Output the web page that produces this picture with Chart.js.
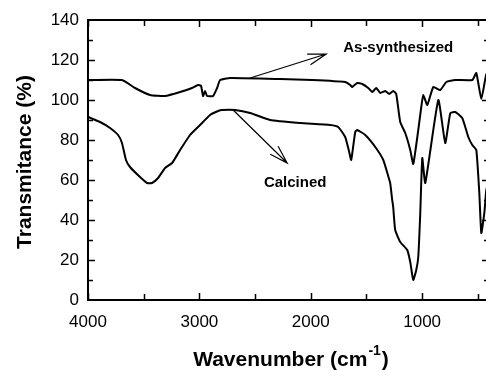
<!DOCTYPE html>
<html>
<head>
<meta charset="utf-8">
<script src="https://cdn.jsdelivr.net/npm/chart.js@4/dist/chart.umd.min.js"></script>
<style>
  html, body { margin: 0; padding: 0; background: #fff; overflow: hidden; }
  #ftir { display: block; }
</style>
</head>
<body>
<canvas id="ftir" width="490" height="370"></canvas>
<script>
// wavenumber (cm-1) and transmitance (%)
var synWave = [4000, 3695, 3578, 3443, 3308, 3173, 3066, 3012, 2985, 2967, 2949, 2931, 2877, 2841, 2814, 2724,
  2275, 1987, 1691, 1646, 1628, 1583, 1538, 1484, 1448, 1412, 1376, 1331, 1296, 1260, 1233, 1197, 1152, 1107,
  1080, 1035, 1008, 990, 954, 900, 837, 783, 703, 550, 514, 469, 424, 400];
var synT = [110, 110, 106, 102.5, 102, 104, 106, 107.5, 107, 102, 104.5, 102, 102, 106, 110, 111,
  110.5, 110, 109, 107.5, 106.5, 108.5, 108, 106, 104, 106, 103.5, 104.5, 103, 104.5, 103, 89, 83.5, 75,
  68, 85, 96.5, 102.5, 97.5, 106.5, 105, 109, 110, 110, 113.5, 100.5, 113, 112];

var calWave = [4000, 3892, 3802, 3730, 3695, 3659, 3623, 3533, 3470, 3425, 3371, 3308, 3245, 3173, 3084, 2994,
  2904, 2832, 2796, 2679, 2544, 2365, 2095, 1826, 1754, 1691, 1655, 1637, 1601, 1583, 1511, 1421, 1349, 1305,
  1287, 1269, 1260, 1242, 1197, 1134, 1107, 1080, 1053, 1035, 1017, 999, 972, 855, 793, 747, 703, 640, 586,
  550, 514, 487, 469, 442, 424, 400];
var calT = [91.5, 89, 86, 82.5, 78.5, 70, 66.5, 61.5, 58.5, 58.5, 61, 66, 68.5, 75, 82.5, 87.5,
  92.5, 94.5, 95, 95, 93.5, 90, 88.5, 87.5, 86.5, 81.5, 74, 70, 84, 85, 82.5, 76.5, 70, 62,
  58.5, 50, 46.5, 35, 29, 25, 19, 10, 15, 21.5, 43.5, 71, 58.5, 100, 78.5, 93.5, 94, 91, 81.5,
  77.5, 75, 53.5, 33.5, 43.5, 55, 60];

var xTicks = [4000, 3000, 2000, 1000];
var yTicks = [0, 20, 40, 60, 80, 100, 120, 140];

// annotations in data units: [label, labelX, labelY, fromX, fromY, toX, toY]
var notes = [
  ["As-synthesized", 1215, 126, 2544, 111, 1862, 123],
  ["Calcined", 2140, 58.5, 2697, 95, 2212, 68.5]
];

function toPoints(xs, ys) {
  var pts = [];
  for (var i = 0; i < xs.length; i++) pts.push({ x: xs[i], y: ys[i] });
  return pts;
}

var framePlugin = {
  id: "frame",
  afterDraw: function (chart) {
    var ctx = chart.ctx;
    var a = chart.chartArea;
    var xs = chart.scales.x, ys = chart.scales.y;
    ctx.save();
    ctx.strokeStyle = "#000";
    ctx.fillStyle = "#000";

    // frame
    ctx.lineWidth = 2;
    ctx.strokeRect(a.left, a.top, a.right - a.left, a.bottom - a.top);

    // inward ticks on all four sides
    ctx.lineWidth = 1.5;
    ctx.beginPath();
    for (var w = 4000; w >= 500; w -= 500) {
      var px = Math.round(xs.getPixelForValue(w)) + 0.5;
      var len = (w % 1000 === 0) ? 7 : 6;
      ctx.moveTo(px, a.bottom); ctx.lineTo(px, a.bottom - len);
      ctx.moveTo(px, a.top); ctx.lineTo(px, a.top + len);
    }
    for (var t = 10; t < 140; t += 10) {
      var py = Math.round(ys.getPixelForValue(t)) + 0.5;
      var l2 = (t % 20 === 0) ? 7 : 5;
      ctx.moveTo(a.left, py); ctx.lineTo(a.left + l2, py);
      ctx.moveTo(a.right, py); ctx.lineTo(a.right - l2, py);
    }
    ctx.stroke();

    // arrows + labels
    ctx.font = "bold 15px 'Liberation Sans', Arial, sans-serif";
    ctx.textAlign = "center";
    ctx.textBaseline = "middle";
    ctx.lineWidth = 1.2;
    notes.forEach(function (n) {
      ctx.fillText(n[0], xs.getPixelForValue(n[1]), ys.getPixelForValue(n[2]));
      var x0 = xs.getPixelForValue(n[3]), y0 = ys.getPixelForValue(n[4]);
      var x1 = xs.getPixelForValue(n[5]), y1 = ys.getPixelForValue(n[6]);
      var ang = Math.atan2(y1 - y0, x1 - x0);
      var hl = 19, ha = 17 * Math.PI / 180;
      ctx.beginPath();
      ctx.moveTo(x0, y0); ctx.lineTo(x1, y1);
      ctx.moveTo(x1 - hl * Math.cos(ang - ha), y1 - hl * Math.sin(ang - ha));
      ctx.lineTo(x1, y1);
      ctx.lineTo(x1 - hl * Math.cos(ang + ha), y1 - hl * Math.sin(ang + ha));
      ctx.stroke();
    });

    // axis titles
    ctx.font = "bold 21px 'Liberation Sans', Arial, sans-serif";
    ctx.save();
    ctx.translate(25, 162);
    ctx.rotate(-Math.PI / 2);
    ctx.fillText("Transmitance (%)", 0, 0);
    ctx.restore();

    var main = "Wavenumber (cm", sup = "-1", tail = ")";
    var supFont = "bold 14px 'Liberation Sans', Arial, sans-serif";
    var mainFont = "bold 21px 'Liberation Sans', Arial, sans-serif";
    ctx.textAlign = "left";
    ctx.font = mainFont;
    var w1 = ctx.measureText(main).width, w3 = ctx.measureText(tail).width;
    ctx.font = supFont;
    var w2 = ctx.measureText(sup).width;
    var sx = 290 - (w1 + w2 + w3) / 2, sy = 360;
    ctx.font = mainFont;
    ctx.fillText(main, sx, sy);
    ctx.font = supFont;
    ctx.fillText(sup, sx + w1 + 1, sy - 9);
    ctx.font = mainFont;
    ctx.fillText(tail, sx + w1 + w2 + 2, sy);
    ctx.restore();
  }
};

var ctx = document.getElementById("ftir").getContext("2d");
var ftirChart = new Chart(ctx, {
  type: "line",
  data: {
    datasets: [
      {
        label: "As-synthesized",
        data: toPoints(synWave, synT),
        borderColor: "#000",
        borderWidth: 2,
        pointRadius: 0,
        tension: 0.15,
        fill: false
      },
      {
        label: "Calcined",
        data: toPoints(calWave, calT),
        borderColor: "#000",
        borderWidth: 2,
        pointRadius: 0,
        tension: 0.15,
        fill: false
      }
    ]
  },
  options: {
    responsive: false,
    animation: false,
    layout: { padding: { top: 20, right: 1, left: 0, bottom: 0 } },
    plugins: { legend: { display: false }, tooltip: { enabled: false } },
    scales: {
      x: {
        type: "linear",
        reverse: true,
        min: 400,
        max: 4000,
        grid: { display: false, drawTicks: false },
        border: { display: false },
        afterBuildTicks: function (scale) {
          scale.ticks = xTicks.map(function (v) { return { value: v }; });
        },
        afterFit: function (scale) { scale.height = 70; },
        ticks: {
          color: "#000",
          padding: 12,
          maxRotation: 0,
          callback: function (v) { return String(v); },
          font: { family: "'Liberation Sans', Arial, sans-serif", size: 17 }
        }
      },
      y: {
        min: 0,
        max: 140,
        grid: { display: false, drawTicks: false },
        border: { display: false },
        afterBuildTicks: function (scale) {
          scale.ticks = yTicks.map(function (v) { return { value: v }; });
        },
        afterFit: function (scale) { scale.width = 88; },
        ticks: {
          color: "#000",
          padding: 9,
          callback: function (v) { return String(v); },
          font: { family: "'Liberation Sans', Arial, sans-serif", size: 17 }
        }
      }
    }
  },
  plugins: [framePlugin]
});
</script>
</body>
</html>
